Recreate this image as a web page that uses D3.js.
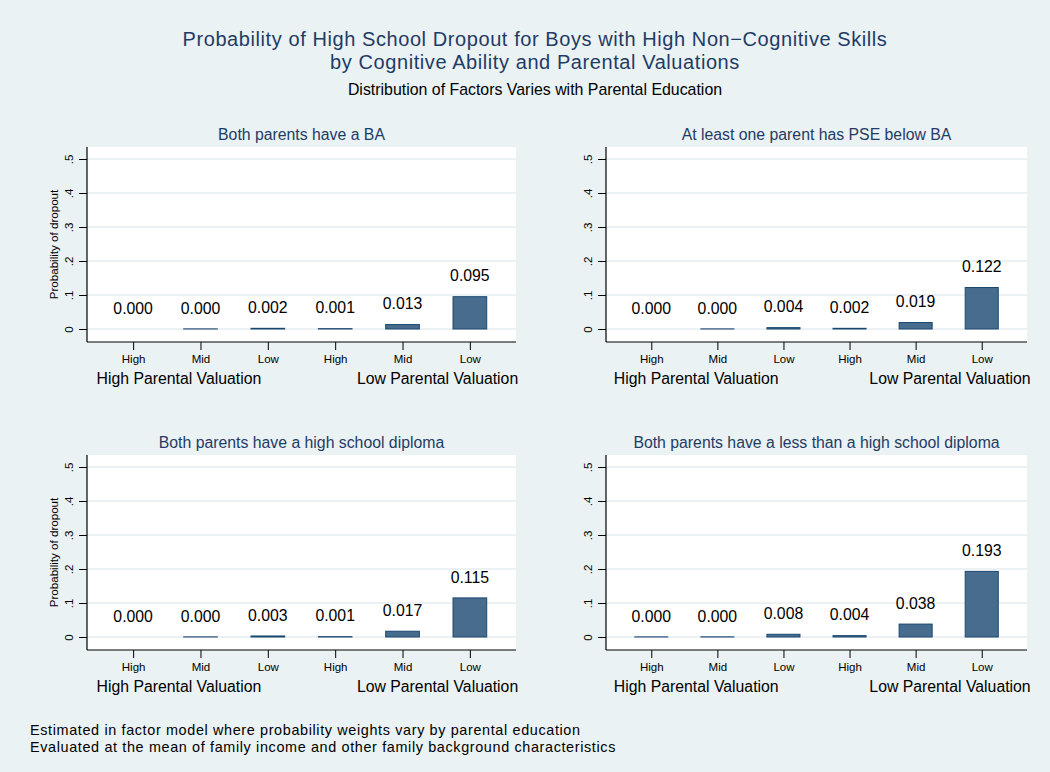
<!DOCTYPE html>
<html><head><meta charset="utf-8">
<script src="https://cdn.jsdelivr.net/npm/d3@7"></script>
<style>
body{margin:0;background:#eaf2f3}
svg{display:block;font-family:"Liberation Sans",Arial,Helvetica,sans-serif}
</style>
</head><body><svg id="c" width="1050" height="772"></svg>
<script>
// ---------- data ----------
const titleLines = ["Probability of High School Dropout for Boys with High Non\u2212Cognitive Skills",
                    "by Cognitive Ability and Parental Valuations"];
const subtitle = "Distribution of Factors Varies with Parental Education";
const notes = ["Estimated in factor model where probability weights vary by parental education",
               "Evaluated at the mean of family income and other family background characteristics"];
const categories = ["High", "Mid", "Low", "High", "Mid", "Low"];
const groupLabels = ["High Parental Valuation", "Low Parental Valuation"];
const groupLabelPos = [1.68, 5.52];
const panelTitles = ["Both parents have a BA",
                     "At least one parent has PSE below BA",
                     "Both parents have a high school diploma",
                     "Both parents have a less than a high school diploma"];
const valuesBA      = [0.0000, 0.0003, 0.002, 0.001, 0.013, 0.095];
const valuesPSE     = [0.0000, 0.0003, 0.004, 0.002, 0.019, 0.122];
const valuesHS      = [0.0000, 0.0003, 0.003, 0.001, 0.017, 0.115];
const valuesLessHS  = [0.0003, 0.0004, 0.008, 0.004, 0.038, 0.193];
const yTicks = [0, 0.1, 0.2, 0.3, 0.4, 0.5];
const yTickLabels = ["0", ".1", ".2", ".3", ".4", ".5"];
const yTitle = "Probability of dropout";

// ---------- layout ----------
const svg = d3.select("#c");
const W = 1050, H = 772;
const navy = "#1f3b66";
const barFill = "#486c8e", barStroke = "#1a476f";
const gridCol = "#e6eef0";
svg.append("rect").attr("width", W).attr("height", H).attr("fill", "#eaf2f3");

// titles
svg.append("text").attr("x", 535).attr("y", 45.8).attr("text-anchor", "middle")
  .attr("font-size", 20).attr("letter-spacing", 0.58).attr("fill", navy).text(titleLines[0]);
svg.append("text").attr("x", 535).attr("y", 68.8).attr("text-anchor", "middle")
  .attr("font-size", 20).attr("letter-spacing", 0.58).attr("fill", navy).text(titleLines[1]);
svg.append("text").attr("x", 535).attr("y", 94.7).attr("text-anchor", "middle")
  .attr("font-size", 15.9).attr("fill", "#000").text(subtitle);

// notes
notes.forEach((t, i) => {
  svg.append("text").attr("x", 30).attr("y", 734.5 + i * 17)
    .attr("font-size", 14.4).attr("letter-spacing", 0.64).attr("fill", "#000").text(t);
});

const panels = [
  {title: panelTitles[0], values: valuesBA,     x0: 87,  x1: 516,  dy: 0,   ytitle: true},
  {title: panelTitles[1], values: valuesPSE,    x0: 606, x1: 1027, dy: 0,   ytitle: false},
  {title: panelTitles[2], values: valuesHS,     x0: 87,  x1: 516,  dy: 308, ytitle: true},
  {title: panelTitles[3], values: valuesLessHS, x0: 606, x1: 1027, dy: 308, ytitle: false}
];

const fmt = d3.format(".3f");

panels.forEach(p => {
  const g = svg.append("g").attr("transform", `translate(0,${p.dy})`);
  const plotTop = 147, plotBot = 342;
  const x = d3.scaleLinear().domain([0.315, 6.685]).range([p.x0, p.x1]);
  const y = d3.scaleLinear().domain([0, 0.5]).range([329, 159]);
  const step = x(2) - x(1);
  const bw = step * 0.5;

  // plot region
  g.append("rect").attr("x", p.x0).attr("y", plotTop)
    .attr("width", p.x1 - p.x0).attr("height", plotBot - plotTop).attr("fill", "#fff");

  // grid
  g.selectAll(".grid").data(yTicks).join("line")
    .attr("x1", p.x0).attr("x2", p.x1)
    .attr("y1", d => y(d)).attr("y2", d => y(d))
    .attr("stroke", gridCol).attr("stroke-width", 1.3);

  // bars
  g.selectAll(".bar").data(p.values).join("rect")
    .attr("x", (d, i) => x(i + 1) - bw / 2)
    .attr("width", bw)
    .attr("y", d => y(d))
    .attr("height", d => y(0) - y(d))
    .attr("fill", barFill).attr("stroke", barStroke).attr("stroke-width", 1);

  // value labels
  g.selectAll(".vl").data(p.values).join("text")
    .attr("x", (d, i) => x(i + 1))
    .attr("y", d => y(d) - 15.3)
    .attr("text-anchor", "middle").attr("font-size", 15.8).attr("fill", "#000")
    .text(d => fmt(d));

  // y axis
  const ya = g.append("g").attr("transform", `translate(${p.x0},0)`)
    .call(d3.axisLeft(y).tickValues(yTicks).tickFormat((d, i) => yTickLabels[i]).tickSize(8).tickSizeOuter(0));
  ya.select(".domain").remove();
  ya.selectAll(".tick line").attr("stroke", "#000");
  ya.selectAll(".tick text")
    .attr("x", null).attr("dy", null).attr("y", null)
    .attr("transform", "translate(-18,0) rotate(-90)")
    .attr("text-anchor", "middle").attr("dominant-baseline", "central")
    .attr("font-size", 11.5).attr("fill", "#000")
    .style("font-family", "'Liberation Sans',Arial,sans-serif");
  g.append("line").attr("x1", p.x0).attr("x2", p.x0).attr("y1", plotTop).attr("y2", plotBot)
    .attr("stroke", "#000").attr("stroke-width", 1.2);

  // x axis
  const xa = g.append("g").attr("transform", `translate(0,${plotBot})`)
    .call(d3.axisBottom(x).tickValues([1, 2, 3, 4, 5, 6]).tickFormat(d => categories[d - 1]).tickSize(8).tickSizeOuter(0));
  xa.select(".domain").remove();
  xa.selectAll(".tick line").attr("stroke", "#000");
  xa.selectAll(".tick text").attr("y", 20.7).attr("dy", null)
    .attr("font-size", 11.5).attr("fill", "#000")
    .style("font-family", "'Liberation Sans',Arial,sans-serif");
  g.append("line").attr("x1", p.x0).attr("x2", p.x1).attr("y1", plotBot).attr("y2", plotBot)
    .attr("stroke", "#000").attr("stroke-width", 1.2);

  // group labels
  g.selectAll(".gl").data(groupLabels).join("text")
    .attr("x", (d, i) => x(groupLabelPos[i])).attr("y", 383.6)
    .attr("text-anchor", "middle").attr("font-size", 15.8).attr("fill", "#000")
    .text(d => d);

  // panel title
  g.append("text").attr("x", (p.x0 + p.x1) / 2).attr("y", 139.5)
    .attr("text-anchor", "middle").attr("font-size", 15.8).attr("fill", navy)
    .text(p.title);

  // y title
  if (p.ytitle) {
    g.append("text").attr("transform", `translate(53.3,${(plotTop + plotBot) / 2}) rotate(-90)`)
      .attr("text-anchor", "middle").attr("dominant-baseline", "central")
      .attr("font-size", 11.6).attr("fill", "#000").text(yTitle);
  }
});
</script>
</body></html>
